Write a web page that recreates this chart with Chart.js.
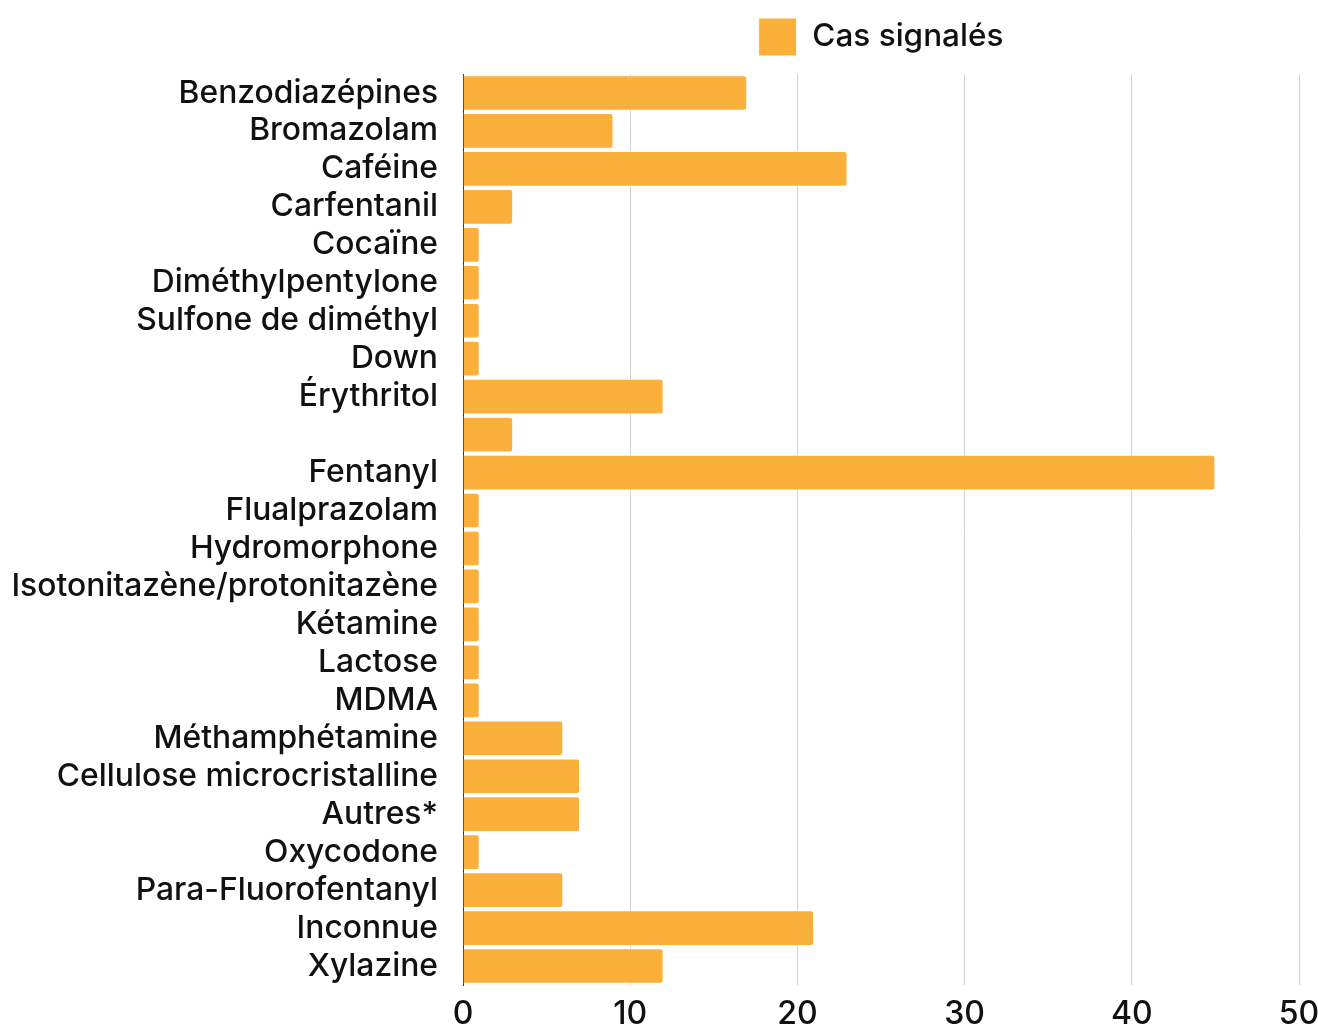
<!DOCTYPE html>
<html>
<head>
<meta charset="utf-8">
<script src="https://cdn.jsdelivr.net/npm/chart.js@4/dist/chart.umd.min.js"></script>
<style>
  html, body { margin: 0; padding: 0; background: #fff; }
  .wrap { width: 1318px; height: 1025px; }
</style>
</head>
<body>
<div class="wrap"><canvas id="chart"></canvas></div>
<script>
const categories = [
  "Benzodiazépines", "Bromazolam", "Caféine", "Carfentanil", "Cocaïne",
  "Diméthylpentylone", "Sulfone de diméthyl", "Down", "Érythritol", "",
  "Fentanyl", "Flualprazolam", "Hydromorphone", "Isotonitazène/protonitazène",
  "Kétamine", "Lactose", "MDMA", "Méthamphétamine", "Cellulose microcristalline",
  "Autres*", "Oxycodone", "Para-Fluorofentanyl", "Inconnue", "Xylazine"
]
const cases = [17, 9, 23, 3, 1, 1, 1, 1, 12, 3, 45, 1, 1, 1, 1, 1, 1, 6, 7, 7, 1, 6, 21, 12]
const xTicks = [0, 10, 20, 30, 40, 50]

const font = "Inter, 'Noto Sans', sans-serif"

// legend sits centred over the plot area, with a bit more room below it
const legendPlacement = {
  id: "legendPlacement",
  beforeInit(chart) {
    const lg = chart.legend
    if (!lg) return
    const fit = lg.fit
    lg.fit = function () {
      fit.call(this)
      this.height += 8
    }
  },
  afterLayout(chart) {
    const lg = chart.legend
    if (!lg) return
    lg.left = chart.chartArea.left
    lg.right = chart.chartArea.right
  }
}

new Chart(document.getElementById("chart"), {
  type: "bar",
  data: {
    labels: categories,
    datasets: [{
      label: "Cas signalés",
      data: cases,
      backgroundColor: "#fbb03b",
      borderColor: "#ffffff",
      borderWidth: 1,
      borderRadius: 3,
      borderSkipped: "start",
      categoryPercentage: 1,
      barPercentage: 0.94
    }]
  },
  options: {
    indexAxis: "y",
    responsive: true,
    maintainAspectRatio: false,
    animation: false,
    layout: { padding: { left: 0, right: 0, top: 4, bottom: 0 } },
    plugins: {
      legend: {
        display: true,
        position: "top",
        align: "center",
        labels: {
          boxWidth: 38,
          boxHeight: 38,
          padding: 14,
          color: "#111",
          font: { size: 31.5, weight: "500", family: font }
        }
      },
      tooltip: { enabled: false }
    },
    scales: {
      x: {
        min: 0,
        max: 50,
        afterBuildTicks: (axis) => { axis.ticks = xTicks.map(v => ({ value: v })) },
        afterFit: (axis) => {
          axis.height = 40
          axis.paddingLeft = 0
          axis.paddingRight = 19
        },
        border: { display: false },
        grid: { color: "#d0d0d0", lineWidth: 1, drawTicks: false },
        ticks: {
          color: "#111",
          padding: 10,
          maxRotation: 0,
          font: { size: 32, weight: "500", family: font }
        }
      },
      y: {
        afterFit: (axis) => { axis.width = 463 },
        border: { display: true, color: "#333", width: 1 },
        grid: { display: false, drawTicks: true, tickLength: 8 },
        ticks: {
          color: "#111",
          padding: 17,
          autoSkip: false,
          font: { size: 31.8, weight: "500", family: font }
        }
      }
    }
  },
  plugins: [legendPlacement]
})
</script>
</body>
</html>
